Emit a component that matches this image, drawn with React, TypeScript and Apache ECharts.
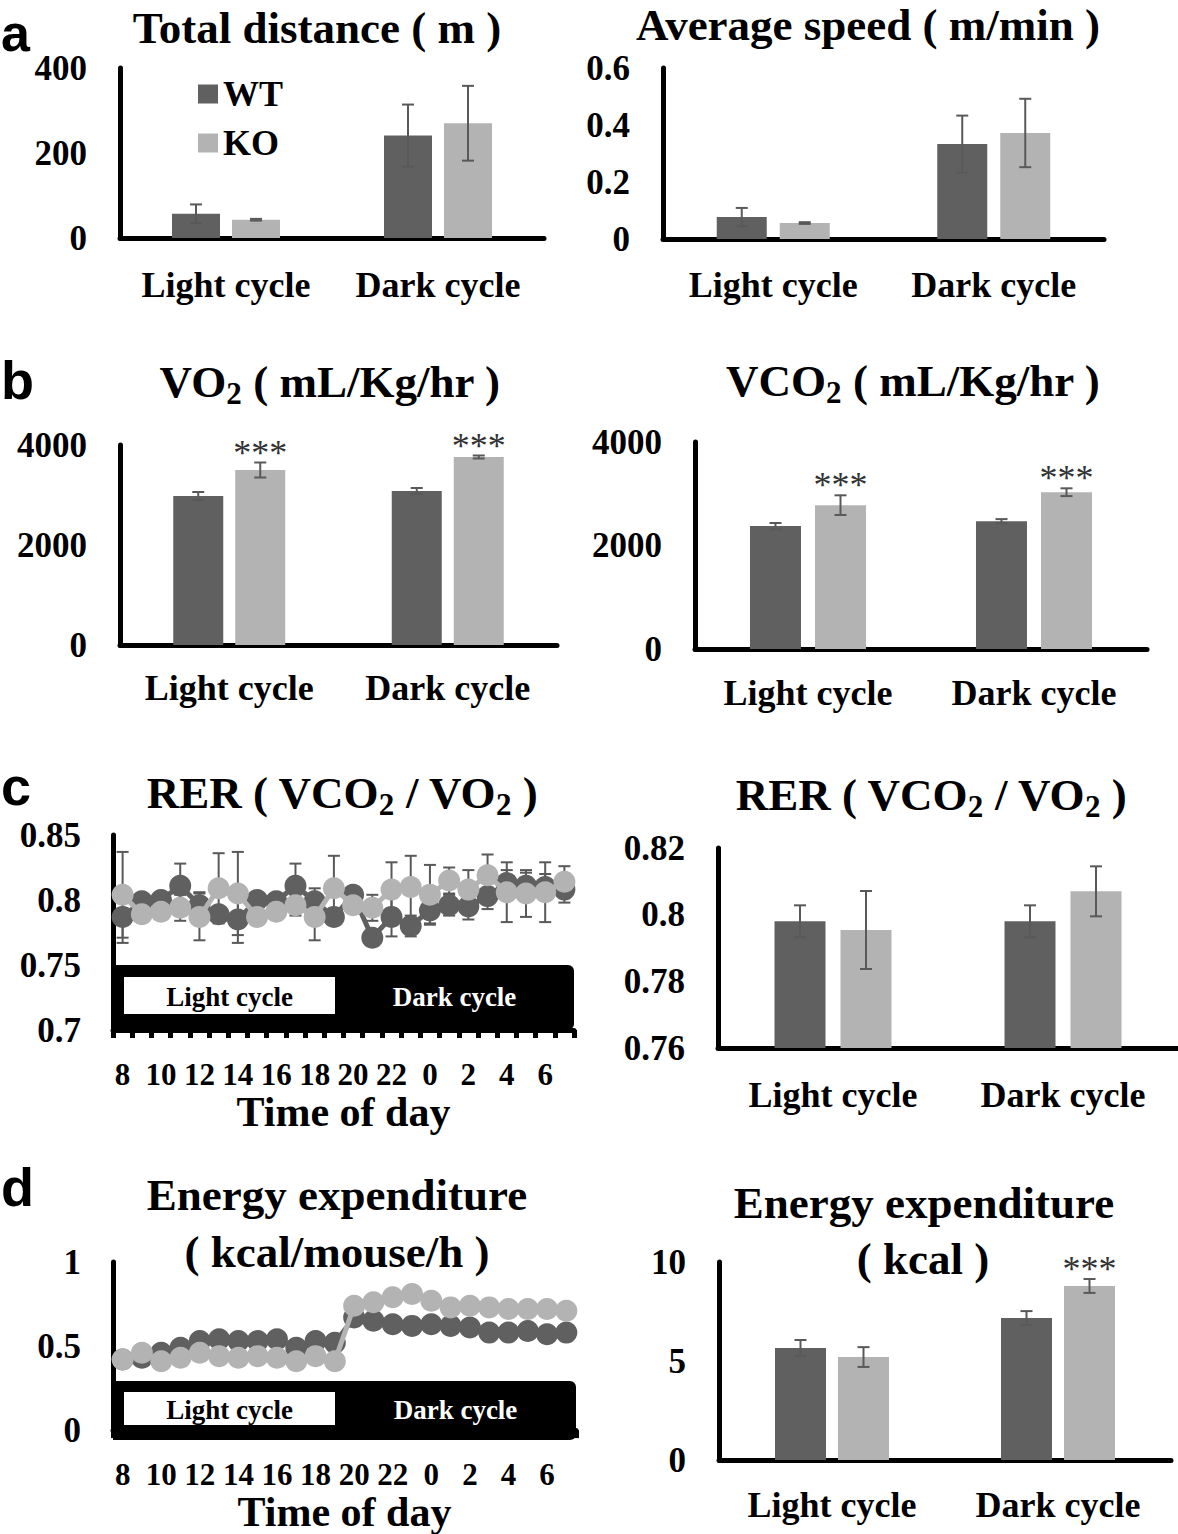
import React, { useEffect, useRef } from "react";
import * as echarts from "echarts";

// ---------- data ----------
const cycles = ["Light cycle", "Dark cycle"];
const hours = ["8", "9", "10", "11", "12", "13", "14", "15", "16", "17", "18", "19", "20", "21", "22", "23", "0", "1", "2", "3", "4", "5", "6", "7"];

const distWT = [57, 241];
const distKO = [43, 270];
const distWTErr = [22, 73];
const distKOErr = [2, 88];

const speedWT = [0.077, 0.333];
const speedKO = [0.056, 0.372];
const speedWTErr = [0.032, 0.1];
const speedKOErr = [0.003, 0.12];

const vo2WT = [2980, 3080];
const vo2KO = [3500, 3760];
const vo2WTErr = [80, 60];
const vo2KOErr = [150, 30];
const vo2Sig = [true, true];

const vco2WT = [2375, 2470];
const vco2KO = [2780, 3030];
const vco2WTErr = [60, 40];
const vco2KOErr = [190, 75];
const vco2Sig = [true, true];

const rerBarWT = [0.798, 0.798];
const rerBarKO = [0.7954, 0.807];
const rerBarWTErr = [0.0048, 0.0048];
const rerBarKOErr = [0.0117, 0.0075];

const eeBarWT = [5.66, 7.17];
const eeBarKO = [5.2, 8.79];
const eeBarWTErr = [0.4, 0.35];
const eeBarKOErr = [0.5, 0.35];
const eeSig = [false, true];

const rerWT = [0.787, 0.799, 0.8, 0.811, 0.796, 0.789, 0.785, 0.8, 0.799, 0.811, 0.799, 0.787, 0.804, 0.771, 0.787, 0.78, 0.792, 0.796, 0.795, 0.803, 0.813, 0.811, 0.81, 0.808];
const rerKO = [0.804, 0.789, 0.791, 0.794, 0.787, 0.809, 0.805, 0.787, 0.791, 0.796, 0.787, 0.809, 0.796, 0.794, 0.808, 0.81, 0.804, 0.815, 0.808, 0.819, 0.806, 0.805, 0.806, 0.814];
const rerWTErr = [0.02, 0.005, 0.005, 0.017, 0.01, 0.005, 0.018, 0.005, 0.005, 0.017, 0.01, 0.005, 0.005, 0.005, 0.015, 0.008, 0.01, 0.008, 0.01, 0.01, 0.01, 0.01, 0.01, 0.01];
const rerKOErr = [0.033, 0.005, 0.005, 0.01, 0.018, 0.027, 0.032, 0.005, 0.005, 0.008, 0.018, 0.025, 0.005, 0.01, 0.021, 0.024, 0.023, 0.01, 0.015, 0.016, 0.023, 0.018, 0.023, 0.012];

const eeWT = [0.42, 0.43, 0.46, 0.49, 0.53, 0.54, 0.53, 0.53, 0.54, 0.49, 0.53, 0.52, 0.67, 0.65, 0.63, 0.62, 0.63, 0.62, 0.61, 0.58, 0.58, 0.59, 0.57, 0.58];
const eeKO = [0.42, 0.46, 0.41, 0.43, 0.46, 0.44, 0.43, 0.44, 0.43, 0.41, 0.44, 0.41, 0.74, 0.76, 0.79, 0.81, 0.77, 0.73, 0.74, 0.73, 0.72, 0.72, 0.72, 0.71];

// ---------- styles ----------
const FONT = "'Liberation Serif', 'Times New Roman', serif";
const SANS = "'Liberation Sans', Arial, sans-serif";
const WT_COLOR = "#606060";
const KO_COLOR = "#b3b3b3";
const ERR_COLOR = "#595959";

const barPanels = [
  { left: 120, top: 68, width: 424, height: 170, min: 0, max: 400, interval: 200, bw: 48, gap: 12, margin: 29, wt: distWT, ko: distKO, wtErr: distWTErr, koErr: distKOErr, sig: null as boolean[] | null },
  { left: 663, top: 68, width: 441, height: 171, min: 0, max: 0.6, interval: 0.2, bw: 50, gap: 13, margin: 28, wt: speedWT, ko: speedKO, wtErr: speedWTErr, koErr: speedKOErr, sig: null },
  { left: 120, top: 445, width: 437, height: 200, min: 0, max: 4000, interval: 2000, bw: 50, gap: 12, margin: 25, wt: vo2WT, ko: vo2KO, wtErr: vo2WTErr, koErr: vo2KOErr, sig: vo2Sig },
  { left: 695, top: 442, width: 452, height: 207, min: 0, max: 4000, interval: 2000, bw: 51, gap: 14, margin: 26, wt: vco2WT, ko: vco2KO, wtErr: vco2WTErr, koErr: vco2KOErr, sig: vco2Sig },
  { left: 718, top: 848, width: 460, height: 200, min: 0.76, max: 0.82, interval: 0.02, bw: 51, gap: 15, margin: 29, wt: rerBarWT, ko: rerBarKO, wtErr: rerBarWTErr, koErr: rerBarKOErr, sig: null },
  { left: 719, top: 1262, width: 452, height: 198, min: 0, max: 10, interval: 5, bw: 51, gap: 12, margin: 27, wt: eeBarWT, ko: eeBarKO, wtErr: eeBarWTErr, koErr: eeBarKOErr, sig: eeSig },
];

const linePanels = [
  { left: 113, top: 835, width: 461, height: 195, min: 0.7, max: 0.85, interval: 0.05, nameGap: 55, wt: rerWT, ko: rerKO, wtErr: rerWTErr as number[] | null, koErr: rerKOErr as number[] | null },
  { left: 113, top: 1262, width: 463, height: 178, min: 0, max: 1, interval: 0.5, nameGap: 52, wt: eeWT, ko: eeKO, wtErr: null, koErr: null },
];

function errSeries(idx: number, values: number[], errs: number[], offset: number, capHalf: number, z: number, sig: boolean[] | null) {
  return {
    type: "custom",
    xAxisIndex: idx,
    yAxisIndex: idx,
    silent: true,
    z,
    encode: { x: 0, y: 1 },
    data: values.map((v, k) => [k, v, errs[k], sig && sig[k] ? 1 : 0]),
    renderItem: (params: any, api: any) => {
      const k = api.value(0);
      const v = api.value(1);
      const e = api.value(2);
      const s = api.value(3);
      const p1 = api.coord([k, v + e]);
      const p2 = api.coord([k, v - e]);
      const x = p1[0] + offset;
      const ls = { stroke: ERR_COLOR, lineWidth: 2 };
      const children: any[] = [
        { type: "line", shape: { x1: x, y1: p1[1], x2: x, y2: p2[1] }, style: ls },
        { type: "line", shape: { x1: x - capHalf, y1: p1[1], x2: x + capHalf, y2: p1[1] }, style: ls },
        { type: "line", shape: { x1: x - capHalf, y1: p2[1], x2: x + capHalf, y2: p2[1] }, style: ls },
      ];
      if (s) {
        children.push({
          type: "text",
          x,
          y: p1[1] - 10,
          style: { text: "***", fontSize: 36, fontFamily: FONT, fill: "#333", align: "center", verticalAlign: "middle" },
        });
      }
      return { type: "group", children };
    },
  };
}

function titleText(x: number, y: number, text: string) {
  return {
    type: "text",
    x,
    y,
    style: { text, fontSize: 45, fontWeight: "bold", fontFamily: FONT, fill: "#000", align: "center", verticalAlign: "middle" },
  };
}

function richTitle(x: number, y: number, text: string) {
  return {
    type: "text",
    x,
    y,
    style: {
      text,
      align: "center",
      verticalAlign: "middle",
      rich: {
        m: { fontSize: 45, fontWeight: "bold", fontFamily: FONT, fill: "#000" },
        s: { fontSize: 31, fontWeight: "bold", fontFamily: FONT, fill: "#000", padding: [22, 0, 0, 0] },
      },
    },
  };
}

function letter(y: number, t: string, size: number) {
  return {
    type: "text",
    x: 1,
    y,
    style: { text: t, fontSize: size, fontWeight: "bold", fontFamily: SANS, fill: "#000", align: "left", verticalAlign: "middle" },
  };
}

function band(left: number, top: number, width: number, height: number, whiteX: number, whiteW: number, pad: number) {
  const cy = top + height / 2 + 2;
  return [
    { type: "rect", z: 1, shape: { x: left, y: top, width, height, r: [0, 6, 6, 0] }, style: { fill: "#000" } },
    { type: "rect", z: 2, shape: { x: whiteX, y: top + pad, width: whiteW, height: height - 2 * pad - 4 }, style: { fill: "#fff" } },
    { type: "text", z: 3, x: whiteX + whiteW / 2, y: cy - 3, style: { text: "Light cycle", fontSize: 27, fontWeight: "bold", fontFamily: FONT, fill: "#000", align: "center", verticalAlign: "middle" } },
    { type: "text", z: 3, x: whiteX + whiteW + (left + width - whiteX - whiteW) / 2, y: cy - 3, style: { text: "Dark cycle", fontSize: 27, fontWeight: "bold", fontFamily: FONT, fill: "#fff", align: "center", verticalAlign: "middle" } },
  ];
}

const plainNum = (v: number) => String(Math.round(v * 10000) / 10000);

function buildOption() {
  const grid: any[] = [];
  const xAxis: any[] = [];
  const yAxis: any[] = [];
  const series: any[] = [];
  const axisLineStyle = { color: "#000", width: 5 };
  const tickLabel = { fontFamily: FONT, fontWeight: "bold", fontSize: 35, color: "#000", margin: 33, formatter: plainNum };

  barPanels.forEach((p, i) => {
    grid.push({ left: p.left, top: p.top, width: p.width, height: p.height });
    xAxis.push({
      gridIndex: i,
      type: "category",
      data: cycles,
      axisLine: { lineStyle: axisLineStyle, onZero: false },
      axisTick: { show: false },
      axisLabel: { fontFamily: FONT, fontWeight: "bold", fontSize: 36, color: "#000", margin: p.margin, interval: 0 },
    });
    yAxis.push({
      gridIndex: i,
      type: "value",
      min: p.min,
      max: p.max,
      interval: p.interval,
      axisLine: { show: true, lineStyle: axisLineStyle },
      axisTick: { show: false },
      splitLine: { show: false },
      axisLabel: tickLabel,
    });
    const gapPct = `${((p.gap / p.bw) * 100).toFixed(1)}%`;
    series.push({ type: "bar", name: "WT", xAxisIndex: i, yAxisIndex: i, data: p.wt, barWidth: p.bw, barGap: gapPct, itemStyle: { color: WT_COLOR } });
    series.push({ type: "bar", name: "KO", xAxisIndex: i, yAxisIndex: i, data: p.ko, barWidth: p.bw, barGap: gapPct, itemStyle: { color: KO_COLOR } });
    const off = (p.bw + p.gap) / 2;
    series.push(errSeries(i, p.wt, p.wtErr, -off, 6, 5, null));
    series.push(errSeries(i, p.ko, p.koErr, off, 6, 5, p.sig));
  });

  linePanels.forEach((p, j) => {
    const i = barPanels.length + j;
    grid.push({ left: p.left, top: p.top, width: p.width, height: p.height });
    xAxis.push({
      gridIndex: i,
      type: "category",
      data: hours,
      boundaryGap: true,
      axisLine: { lineStyle: axisLineStyle, onZero: false },
      axisTick: { show: true, interval: 0, length: 8, lineStyle: { color: "#000", width: 5 } },
      axisLabel: { fontFamily: FONT, fontWeight: "bold", fontSize: 31, color: "#000", margin: 29, interval: 1 },
      name: "Time of day",
      nameLocation: "middle",
      nameGap: p.nameGap,
      nameTextStyle: { fontFamily: FONT, fontWeight: "bold", fontSize: 42, color: "#000" },
    });
    yAxis.push({
      gridIndex: i,
      type: "value",
      min: p.min,
      max: p.max,
      interval: p.interval,
      axisLine: { show: true, lineStyle: axisLineStyle },
      axisTick: { show: false },
      splitLine: { show: false },
      axisLabel: { ...tickLabel, margin: 32 },
    });
    if (p.wtErr) series.push(errSeries(i, p.wt, p.wtErr, 0, 6, 2, null));
    if (p.koErr) series.push(errSeries(i, p.ko, p.koErr, 0, 6, 2, null));
    series.push({
      type: "line", name: "WT", xAxisIndex: i, yAxisIndex: i, data: p.wt, z: 3,
      symbol: "circle", symbolSize: 22, showSymbol: true, showAllSymbol: true,
      lineStyle: { width: 5, color: WT_COLOR }, itemStyle: { color: WT_COLOR },
    });
    series.push({
      type: "line", name: "KO", xAxisIndex: i, yAxisIndex: i, data: p.ko, z: 4,
      symbol: "circle", symbolSize: 22, showSymbol: true, showAllSymbol: true,
      lineStyle: { width: 5, color: KO_COLOR }, itemStyle: { color: KO_COLOR },
    });
  });

  const graphic: any[] = [
    letter(33, "a", 52),
    letter(380, "b", 54),
    letter(786, "c", 54),
    letter(1187, "d", 54),
    titleText(317, 28, "Total distance ( m )"),
    titleText(868, 25, "Average speed ( m/min )"),
    richTitle(330, 382, "{m|VO}{s|2}{m| ( mL/Kg/hr )}"),
    richTitle(913, 381, "{m|VCO}{s|2}{m| ( mL/Kg/hr )}"),
    richTitle(342, 793, "{m|RER ( VCO}{s|2}{m| / VO}{s|2}{m| )}"),
    richTitle(931, 795, "{m|RER ( VCO}{s|2}{m| / VO}{s|2}{m| )}"),
    titleText(337, 1195, "Energy expenditure"),
    titleText(337, 1252, "( kcal/mouse/h )"),
    titleText(924, 1203, "Energy expenditure"),
    titleText(923, 1259, "( kcal )"),
    ...band(113, 965, 461, 65, 124, 211, 12),
    ...band(113, 1381, 463, 59, 124, 211, 11),
  ];

  return {
    animation: false,
    backgroundColor: "#fff",
    legend: {
      data: ["WT", "KO"],
      orient: "vertical",
      left: 198,
      top: 76,
      padding: 0,
      itemWidth: 20,
      itemHeight: 19,
      itemGap: 13,
      icon: "rect",
      selectedMode: false,
      textStyle: { fontFamily: FONT, fontWeight: "bold", fontSize: 36, color: "#000" },
    },
    grid,
    xAxis,
    yAxis,
    series,
    graphic,
  };
}

export default function App() {
  const ref = useRef<HTMLDivElement>(null);
  useEffect(() => {
    const chart = echarts.init(ref.current as HTMLDivElement, null, { renderer: "svg" });
    chart.setOption(buildOption() as any);
    return () => chart.dispose();
  }, []);
  return (
    <div
      ref={ref}
      style={{ position: "absolute", left: 0, top: 0, width: 1178, height: 1534, background: "#fff" }}
    />
  );
}
